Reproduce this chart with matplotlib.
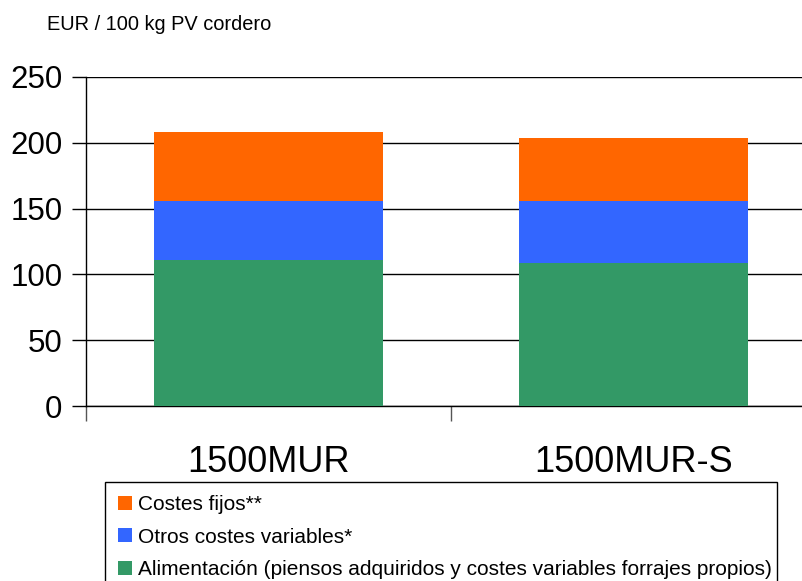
import numpy as np
import matplotlib.pyplot as plt

plt.rcParams['font.family'] = ['Liberation Sans', 'DejaVu Sans']

# data
categories = ['1500MUR', '1500MUR-S']
alimentacion = [110.9, 108.4]
otros_variables = [44.9, 47.4]
costes_fijos = [52.4, 47.8]

series_labels = ['Alimentación (piensos adquiridos y costes variables forrajes propios)',
                 'Otros costes variables*',
                 'Costes fijos**']
colors = ['#339966', '#3366FF', '#FF6600']

W, H = 802, 581
fig = plt.figure(figsize=(W / 100, H / 100), dpi=100)
# plot area runs past the right edge of the picture, as in the original
ax = fig.add_axes([86 / W, 1 - 406 / H, 730 / W, (406 - 77) / H])

x = np.arange(len(categories))
bar_w = 0.625
b1 = ax.bar(x, alimentacion, bar_w, color=colors[0], zorder=3)
b2 = ax.bar(x, otros_variables, bar_w, bottom=alimentacion, color=colors[1], zorder=3)
bottom2 = np.array(alimentacion) + np.array(otros_variables)
b3 = ax.bar(x, costes_fijos, bar_w, bottom=bottom2, color=colors[2], zorder=3)

ax.set_xlim(-0.5, len(categories) - 0.5)
ax.set_ylim(0, 250)
ax.set_yticks([0, 50, 100, 150, 200, 250])
ax.yaxis.grid(True, color='black', linewidth=1.0, zorder=0)

# category ticks sit between the groups
ax.set_xticks(np.arange(len(categories) + 1) - 0.5)
ax.set_xticklabels([])
ax.set_xticks(x, minor=True)
ax.set_xticklabels(categories, minor=True, fontsize=26)
ax.tick_params(axis='x', which='minor', length=0, pad=28)
ax.tick_params(axis='x', which='major', length=11, width=1, color='#555555')
ax.tick_params(axis='y', length=10, width=1, labelsize=22.5, pad=7)

for side in ['top', 'right']:
    ax.spines[side].set_visible(False)
ax.spines['left'].set_linewidth(1.0)
ax.spines['bottom'].set_linewidth(1.0)

fig.text(47 / W, 1 - 25 / H, 'EUR / 100 kg PV cordero', fontsize=14.4, va='center', ha='left')

leg = fig.legend([b3, b2, b1], series_labels[::-1],
                 loc='upper left',
                 bbox_to_anchor=(105 / W, 1 - 483 / H, (777 - 105) / W, 0.001),
                 mode='expand', borderaxespad=0, fontsize=15,
                 handlelength=0.67, handleheight=0.65, handletextpad=0.3,
                 labelspacing=0.64, borderpad=0.62, fancybox=False,
                 edgecolor='black', framealpha=1)
leg.get_frame().set_linewidth(1.0)

fig.savefig('out.png', dpi=100)
